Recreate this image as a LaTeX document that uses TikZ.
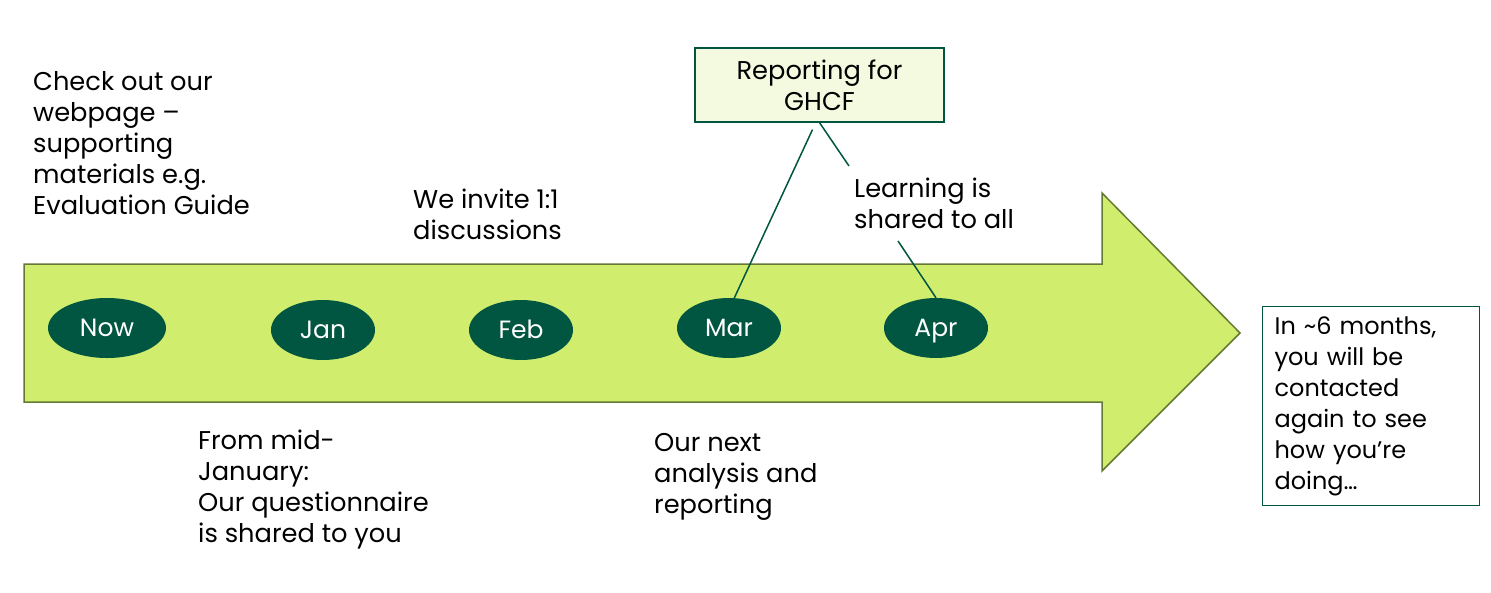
\documentclass[tikz,border=0pt]{standalone}
\usepackage{fontspec}
\setmainfont{Poppins}
\usepackage{tikz}
\usetikzlibrary{shapes,calc}
\definecolor{limefill}{RGB}{209,237,110}
\definecolor{limeline}{RGB}{100,122,52}
\definecolor{darkgreen}{RGB}{0,86,64}
\definecolor{paleback}{RGB}{244,250,224}

\begin{document}
\begin{tikzpicture}[x=1pt, y=-1pt]
\tikzstyle{month}=[ellipse, fill=darkgreen, text=white, inner sep=0, minimum width=104, minimum height=60, text height=18, text depth=1, font=\fontsize{25}{31}\selectfont]
\tikzstyle{note}=[anchor=north west, align=left, inner sep=0]
\tikzstyle{box}=[rectangle, draw=darkgreen, line width=1.2pt]
\tikzstyle{link}=[draw=darkgreen, line width=1.5pt]
\fontsize{25.7}{31}\selectfont

  \useasboundingbox (0,0) rectangle (1491,592);

  % the timeline arrow
  \draw[fill=limefill, draw=limeline, line width=1.5pt]
    (24,264) -- (1102,264) -- (1102,193) -- (1240,333)
    -- (1102,471) -- (1102,402) -- (24,402) -- cycle;

  \node[month, minimum width=118] (now) at (107,328) {Now};
  \node[month] (jan) at (323,330) {Jan};
  \node[month] (feb) at (521,330) {Feb};
  \node[month] (mar) at (729,328) {Mar};
  \node[month] (apr) at (936,328) {Apr};

  \node[note] (check)  at (33,71)   {Check out our\\webpage --\\supporting\\materials e.g.\\Evaluation Guide};
  \node[note] (invite) at (413,189) {We invite 1:1\\discussions};
  \node[note] (from)   at (198,430) {From mid-\\January:\\Our questionnaire\\is shared to you};
  \node[note] (next)   at (654,433) {Our next\\analysis and\\reporting};
  \node[note] (learn)  at (854,178) {Learning is\\shared to all};

  \node[box, fill=paleback, align=center, minimum width=249, minimum height=74] (report) at (819.5,85) {Reporting for\\GHCF};
  \node[box, anchor=north west, align=left, text width=193, inner xsep=12, inner ysep=0, minimum height=199,
        font=\fontsize{24}{31}\selectfont] (later) at (1262,306)
    {In \textasciitilde 6 months,\\you will be\\contacted\\again to see\\how you’re\\doing…};

  \path[link] ([shift={(-7,7)}]report.south) -- (mar.80);
  \path[link] (report.south) -- ([shift={(-5,-12)}]learn.north west);
  \path[link] ([shift={(44,63)}]learn.north west) -- (apr.north);

\end{tikzpicture}
\end{document}
